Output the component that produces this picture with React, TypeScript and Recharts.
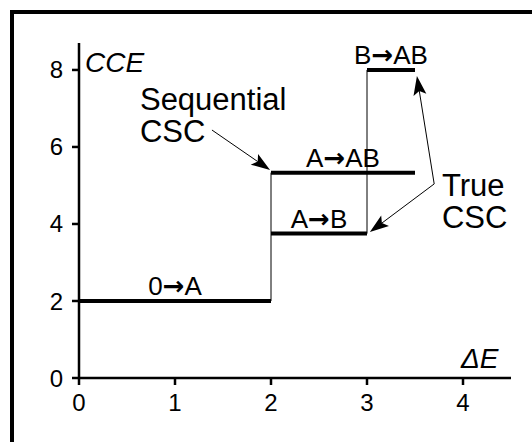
import React from 'react';
import { LineChart, Line, XAxis, YAxis, ReferenceDot, ReferenceLine } from 'recharts';

const FONT = '"Liberation Sans", Arial, Helvetica, sans-serif';

// energy thresholds (x) and CCE levels (y)
const xTicks = [0, 1, 2, 3, 4];
const yTicks = [0, 2, 4, 6, 8];

// plateaus, one per transition: from state -> to state
const fromState = ['0', 'A', 'A', 'B'];
const toState = ['A', 'B', 'AB', 'AB'];
const startE = [0, 2, 2, 3];
const endE = [2, 3, 3.5, 3.5];
const cceLevel = [2, 3.75, 16 / 3, 8];

// thin risers joining the plateaus
const risers = [
  [{ x: 2, y: 2 }, { x: 2, y: 16 / 3 }],
  [{ x: 3, y: 3.75 }, { x: 3, y: 8 }],
];

const plateaus = fromState.map((from, i) => ({
  from,
  to: toState[i],
  points: [
    { x: startE[i], y: cceLevel[i] },
    { x: endE[i], y: cceLevel[i] },
  ],
}));

// pointer arrows (from -> to), in axis units
const arrows = [
  [{ x: 1.385, y: 6.44 }, { x: 1.99, y: 5.4 }],
  [{ x: 3.7, y: 5.04 }, { x: 3.52, y: 7.84 }],
  [{ x: 3.7, y: 5.04 }, { x: 3.03, y: 3.79 }],
];

const notes = [
  { x: 0.635, y: 6.96, lines: ['Sequential', 'CSC'], size: 31, italic: false },
  { x: 3.78, y: 4.73, lines: ['True', 'CSC'], size: 31, italic: false },
  { x: 0.0625, y: 7.95, lines: ['CCE'], size: 28, italic: true },
  { x: 3.98, y: 0.26, lines: ['ΔE'], size: 28, italic: true },
];

function NoteText(props: any) {
  const { viewBox, lines, size, italic } = props;
  if (!viewBox) return null;
  return (
    <text x={viewBox.x} y={viewBox.y} fill="#000" fontFamily={FONT} fontSize={size} fontStyle={italic ? 'italic' : 'normal'}>
      {lines.map((t: string, i: number) => (
        <tspan key={t + i} x={viewBox.x} dy={i === 0 ? 0 : 32}>{t}</tspan>
      ))}
    </text>
  );
}

// "X→Y" over a plateau, with a heavier arrow glyph
function TransitionLabel(props: any) {
  const { viewBox, from, to } = props;
  if (!viewBox) return null;
  return (
    <text x={viewBox.x} y={viewBox.y - 6} textAnchor="middle" fill="#000" fontFamily={FONT} fontSize={26}>
      <tspan>{from}</tspan>
      <tspan fontFamily='"DejaVu Sans", sans-serif' fontWeight="bold" fontSize={26}>→</tspan>
      <tspan>{to}</tspan>
    </text>
  );
}

function ArrowShape(props: any) {
  const { x1, y1, x2, y2 } = props;
  const dx = x2 - x1;
  const dy = y2 - y1;
  const len = Math.sqrt(dx * dx + dy * dy) || 1;
  const ux = dx / len;
  const uy = dy / len;
  const headLen = 19;
  const halfW = 6.5;
  const bx = x2 - ux * headLen;
  const by = y2 - uy * headLen;
  const p1 = `${bx - uy * halfW},${by + ux * halfW}`;
  const p2 = `${bx + uy * halfW},${by - ux * halfW}`;
  return (
    <g>
      <line x1={x1} y1={y1} x2={bx + ux * 4} y2={by + uy * 4} stroke="#000" strokeWidth={1} />
      <polygon points={`${x2},${y2} ${p1} ${bx + ux * 4},${by + uy * 4} ${p2}`} fill="#000" />
    </g>
  );
}

const axisStroke = { stroke: '#000', strokeWidth: 2.5, strokeOpacity: 1 };

export default function App() {
  const tickStyle = { fill: '#000', fontSize: 24, fontFamily: FONT };
  return (
    <div style={{ position: 'fixed', left: 0, top: 0, width: 532, height: 442, overflow: 'hidden', background: '#fff' }}>
      <div style={{ position: 'absolute', left: 10, top: 10, width: 560, height: 480, border: '4px solid #000', boxSizing: 'border-box' }} />
      <div style={{ position: 'absolute', left: 0, top: 0 }}>
        <LineChart width={532} height={442} margin={{ top: 43, right: 21, bottom: 0, left: 0 }}>
          <XAxis
            type="number"
            dataKey="x"
            domain={[0, 4.5]}
            ticks={xTicks}
            allowDataOverflow
            height={64}
            tickSize={7}
            tickMargin={9}
            tick={tickStyle}
            stroke="#000"
            axisLine={axisStroke}
            tickLine={axisStroke}
          />
          <YAxis
            type="number"
            dataKey="y"
            domain={[0, 8.7]}
            ticks={yTicks}
            allowDataOverflow
            width={79}
            tickSize={7}
            tickMargin={9}
            tick={tickStyle}
            stroke="#000"
            axisLine={axisStroke}
            tickLine={axisStroke}
          />
          {risers.map((pts, i) => (
            <Line key={'r' + i} data={pts} dataKey="y" stroke="#000" strokeWidth={1} dot={false} isAnimationActive={false} />
          ))}
          {plateaus.map((p, i) => (
            <Line key={'p' + i} data={p.points} dataKey="y" stroke="#000" strokeWidth={4} dot={false} isAnimationActive={false} />
          ))}
          {plateaus.map((p, i) => (
            <ReferenceDot
              key={'l' + i}
              x={(p.points[0].x + p.points[1].x) / 2}
              y={p.points[0].y}
              r={0}
              stroke="none"
              label={<TransitionLabel from={p.from} to={p.to} />}
            />
          ))}
          {arrows.map((seg, i) => (
            <ReferenceLine key={'a' + i} segment={seg} stroke="#000" shape={ArrowShape} />
          ))}
          {notes.map((n, i) => (
            <ReferenceDot
              key={'n' + i}
              x={n.x}
              y={n.y}
              r={0}
              stroke="none"
              label={<NoteText lines={n.lines} size={n.size} italic={n.italic} />}
            />
          ))}
        </LineChart>
      </div>
    </div>
  );
}
